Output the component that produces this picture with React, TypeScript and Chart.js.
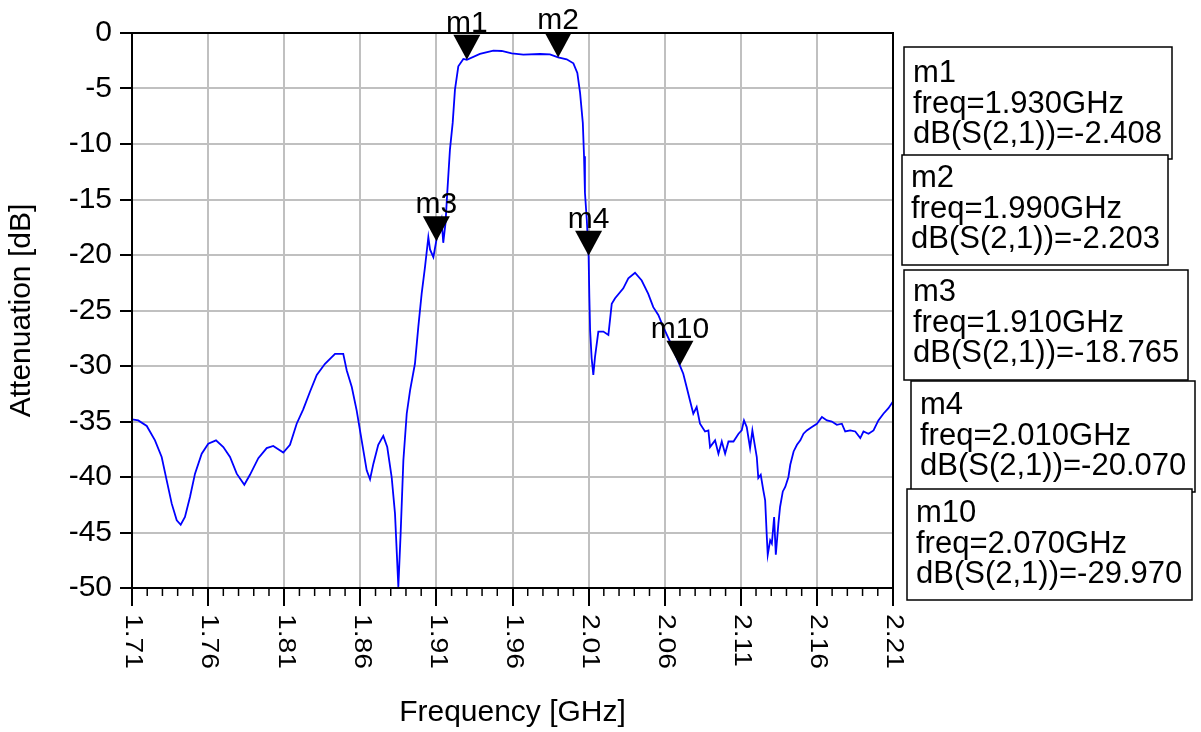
import React, { useEffect, useRef } from 'react';
import { Chart, registerables } from 'chart.js';

Chart.register(...registerables);

// ---- data ----
const freqGHz = [
  1.7100, 1.7141, 1.7197, 1.7251, 1.7295, 1.7328, 1.7361, 1.7394, 1.7420, 1.7448,
  1.7481, 1.7514, 1.7558, 1.7601, 1.7652, 1.7700, 1.7744, 1.7788, 1.7838, 1.7875,
  1.7930, 1.7985, 1.8028, 1.8094, 1.8138, 1.8182, 1.8225, 1.8270, 1.8314, 1.8368,
  1.8434, 1.8488, 1.8511, 1.8544, 1.8576, 1.8609, 1.8642, 1.8664, 1.8686, 1.8718,
  1.8751, 1.8777, 1.8806, 1.8828, 1.8850, 1.8865, 1.8883, 1.8905, 1.8927, 1.8959,
  1.8981, 1.9003, 1.9025, 1.9047, 1.9058, 1.9080, 1.9101, 1.9134, 1.9145, 1.9160,
  1.9170, 1.9189, 1.9207, 1.9222, 1.9244, 1.9277, 1.9300, 1.9386, 1.9474, 1.9529,
  1.9595, 1.9671, 1.9781, 1.9846, 1.9900, 1.9956, 2.0000, 2.0026, 2.0044, 2.0062,
  2.0070, 2.0076, 2.0088, 2.0100, 2.0105, 2.0110, 2.0120, 2.0131, 2.0142, 2.0164,
  2.0197, 2.0230, 2.0252, 2.0274, 2.0328, 2.0361, 2.0405, 2.0449, 2.0492, 2.0525,
  2.0558, 2.0591, 2.0635, 2.0700, 2.0722, 2.0744, 2.0766, 2.0788, 2.0810, 2.0832,
  2.0865, 2.0887, 2.0898, 2.0931, 2.0953, 2.0975, 2.0997, 2.1019, 2.1052, 2.1085,
  2.1106, 2.1121, 2.1139, 2.1161, 2.1176, 2.1194, 2.1205, 2.1215, 2.1231, 2.1248,
  2.1260, 2.1271, 2.1277, 2.1293, 2.1304, 2.1319, 2.1330, 2.1347, 2.1358, 2.1376,
  2.1392, 2.1413, 2.1425, 2.1447, 2.1469, 2.1491, 2.1512, 2.1534, 2.1567, 2.1600,
  2.1633, 2.1666, 2.1698, 2.1731, 2.1764, 2.1786, 2.1819, 2.1852, 2.1885, 2.1906,
  2.1939, 2.1972, 2.2004, 2.2037, 2.2070, 2.2100,
];

const s21dB = [
  -34.8, -34.9, -35.4, -36.7, -38.2, -40.3, -42.4, -43.9, -44.3, -43.6,
  -41.8, -39.7, -37.9, -37.0, -36.7, -37.3, -38.2, -39.7, -40.7, -39.8,
  -38.3, -37.4, -37.2, -37.8, -37.1, -35.2, -33.9, -32.3, -30.8, -29.8,
  -28.9, -28.9, -30.4, -31.9, -34.0, -36.7, -39.4, -40.2, -38.8, -37.1,
  -36.3, -37.3, -40.0, -43.3, -49.9, -45.1, -38.5, -34.3, -32.2, -29.8,
  -26.5, -23.5, -21.1, -18.4, -19.5, -20.2, -18.6, -16.8, -18.9, -17.1,
  -14.7, -10.5, -8.1, -5.1, -3.0, -2.34, -2.41, -1.89, -1.59, -1.62,
  -1.83, -1.95, -1.89, -1.92, -2.20, -2.37, -2.73, -3.6, -5.4, -8.1,
  -11.1, -14.4, -16.8, -20.07, -23.8, -26.8, -29.3, -30.8, -29.2, -26.9,
  -26.9, -27.2, -24.4, -23.9, -23.0, -22.1, -21.6, -22.3, -23.5, -24.7,
  -25.4, -26.5, -27.8, -29.97, -30.7, -31.9, -33.1, -34.3, -33.7, -35.2,
  -35.9, -35.8, -37.3, -36.7, -37.9, -36.8, -37.9, -36.8, -36.8, -36.1,
  -35.8, -34.9, -35.5, -37.4, -35.8, -37.3, -38.2, -40.1, -39.8, -41.2,
  -42.1, -45.4, -47.0, -45.7, -46.0, -43.6, -47.0, -44.2, -42.7, -41.3,
  -40.9, -40.0, -38.9, -37.7, -37.1, -36.7, -36.1, -35.8, -35.5, -35.2,
  -34.6, -34.9, -35.0, -35.3, -35.2, -35.9, -35.8, -35.9, -36.5, -35.9,
  -36.1, -35.8, -34.9, -34.3, -33.8, -33.2,
];

const xTickValues = [1.71, 1.76, 1.81, 1.86, 1.91, 1.96, 2.01, 2.06, 2.11, 2.16, 2.21];
const xMinorStep = 0.01;
const yMin = -50;
const yMax = 0;
const yStep = 5;

const markerNames = ['m1', 'm2', 'm3', 'm4', 'm10'];
const markerFreqs = [1.93, 1.99, 1.91, 2.01, 2.07];
const markerValues = [-2.408, -2.203, -18.765, -20.07, -29.97];

const xTitle = 'Frequency [GHz]';
const yTitle = 'Attenuation [dB]';

// ---- layout / style ----
const FONT = 'Arial, "Liberation Sans", sans-serif';
const boxLayout = [
  { x: 904, y: 47, w: 268, h: 112, first: 35 },
  { x: 902, y: 155, w: 266, h: 110, first: 32 },
  { x: 904, y: 270, w: 284, h: 110, first: 31 },
  { x: 911, y: 381, w: 284, h: 111, first: 33 },
  { x: 907, y: 489, w: 285, h: 111, first: 33 },
];

const overlayPlugin = {
  id: 'adsOverlay',
  afterDraw(chart: any) {
    const ctx = chart.ctx as CanvasRenderingContext2D;
    const xs = chart.scales.x;
    const ys = chart.scales.y;
    const area = chart.chartArea;

    ctx.save();
    // minor x ticks
    ctx.strokeStyle = '#000';
    ctx.lineWidth = 1.5;
    const nMinor = Math.round((xs.max - xs.min) / xMinorStep);
    for (let i = 1; i < nMinor; i++) {
      if (i % 5 === 0) continue;
      const px = xs.getPixelForValue(xs.min + i * xMinorStep);
      ctx.beginPath();
      ctx.moveTo(px, area.bottom);
      ctx.lineTo(px, area.bottom + 8);
      ctx.stroke();
    }

    // frame
    ctx.lineWidth = 2;
    ctx.strokeRect(area.left, area.top, area.right - area.left, area.bottom - area.top);

    // rotated x tick labels (reading top to bottom)
    ctx.fillStyle = '#000';
    ctx.font = `24px ${FONT}`;
    ctx.textAlign = 'left';
    ctx.textBaseline = 'middle';
    xTickValues.forEach((v) => {
      const px = xs.getPixelForValue(v);
      ctx.save();
      ctx.translate(px + 1, area.bottom + 26);
      ctx.rotate(Math.PI / 2);
      ctx.scale(1.18, 1);
      ctx.fillText(v.toFixed(2), 0, 0);
      ctx.restore();
    });

    // markers
    ctx.font = `30px ${FONT}`;
    ctx.textAlign = 'center';
    ctx.textBaseline = 'alphabetic';
    markerNames.forEach((name, i) => {
      const px = xs.getPixelForValue(markerFreqs[i]);
      const py = ys.getPixelForValue(markerValues[i]);
      ctx.beginPath();
      ctx.moveTo(px, py);
      ctx.lineTo(px - 13.5, py - 25);
      ctx.lineTo(px + 13.5, py - 25);
      ctx.closePath();
      ctx.fill();
      ctx.fillText(name, px, py - 28);
    });

    // marker readout boxes
    ctx.font = `31px ${FONT}`;
    ctx.textAlign = 'left';
    ctx.lineWidth = 1.5;
    markerNames.forEach((name, i) => {
      const b = boxLayout[i];
      ctx.fillStyle = '#fff';
      ctx.fillRect(b.x, b.y, b.w, b.h);
      ctx.strokeStyle = '#000';
      ctx.strokeRect(b.x, b.y, b.w, b.h);
      ctx.fillStyle = '#000';
      const lines = [
        name,
        `freq=${markerFreqs[i].toFixed(3)}GHz`,
        `dB(S(2,1))=${markerValues[i].toFixed(3)}`,
      ];
      lines.forEach((t, k) => ctx.fillText(t, b.x + 9, b.y + b.first + k * 30.5));
    });
    ctx.restore();
  },
};

export default function App() {
  const canvasRef = useRef<HTMLCanvasElement | null>(null);

  useEffect(() => {
    if (!canvasRef.current) return;
    const points = freqGHz.map((f, i) => ({ x: f, y: s21dB[i] }));
    const chart = new Chart(canvasRef.current, {
      type: 'line',
      data: {
        datasets: [
          {
            data: points,
            borderColor: '#0000ff',
            borderWidth: 1.8,
            pointRadius: 0,
            tension: 0,
            fill: false,
          },
        ],
      },
      options: {
        animation: false,
        responsive: true,
        maintainAspectRatio: false,
        devicePixelRatio: 1,
        layout: { padding: { top: 33, right: 308, bottom: 0, left: 0 } },
        plugins: {
          legend: { display: false },
          tooltip: { enabled: false },
          title: { display: false },
        },
        scales: {
          x: {
            type: 'linear',
            min: xTickValues[0],
            max: xTickValues[xTickValues.length - 1],
            afterBuildTicks: (scale: any) => {
              scale.ticks = xTickValues.map((v) => ({ value: v }));
            },
            afterFit: (scale: any) => {
              scale.height = 144;
            },
            ticks: { display: false },
            grid: {
              color: '#c0c0c0',
              lineWidth: 2,
              tickColor: '#000',
              tickWidth: 2,
              tickLength: 18,
              drawTicks: true,
            },
            border: { display: true, color: '#000', width: 2 },
            title: {
              display: true,
              text: xTitle,
              color: '#000',
              font: { family: FONT, size: 30 },
              padding: { top: 0, bottom: 1 },
            },
          },
          y: {
            type: 'linear',
            min: yMin,
            max: yMax,
            ticks: {
              stepSize: yStep,
              color: '#000',
              font: { family: FONT, size: 30 },
              padding: 8,
            },
            afterFit: (scale: any) => {
              scale.width = 132;
            },
            grid: {
              color: '#c0c0c0',
              lineWidth: 2,
              tickColor: '#000',
              tickWidth: 2,
              tickLength: 12,
            },
            border: { display: true, color: '#000', width: 2 },
            title: {
              display: true,
              text: yTitle,
              color: '#000',
              font: { family: FONT, size: 30 },
              padding: { top: 4, bottom: 0 },
            },
          },
        },
      },
      plugins: [overlayPlugin],
    });
    return () => chart.destroy();
  }, []);

  return (
    <div style={{ position: 'fixed', left: 0, top: 0, width: 1201, height: 732, background: '#fff' }}>
      <canvas ref={canvasRef} />
    </div>
  );
}
